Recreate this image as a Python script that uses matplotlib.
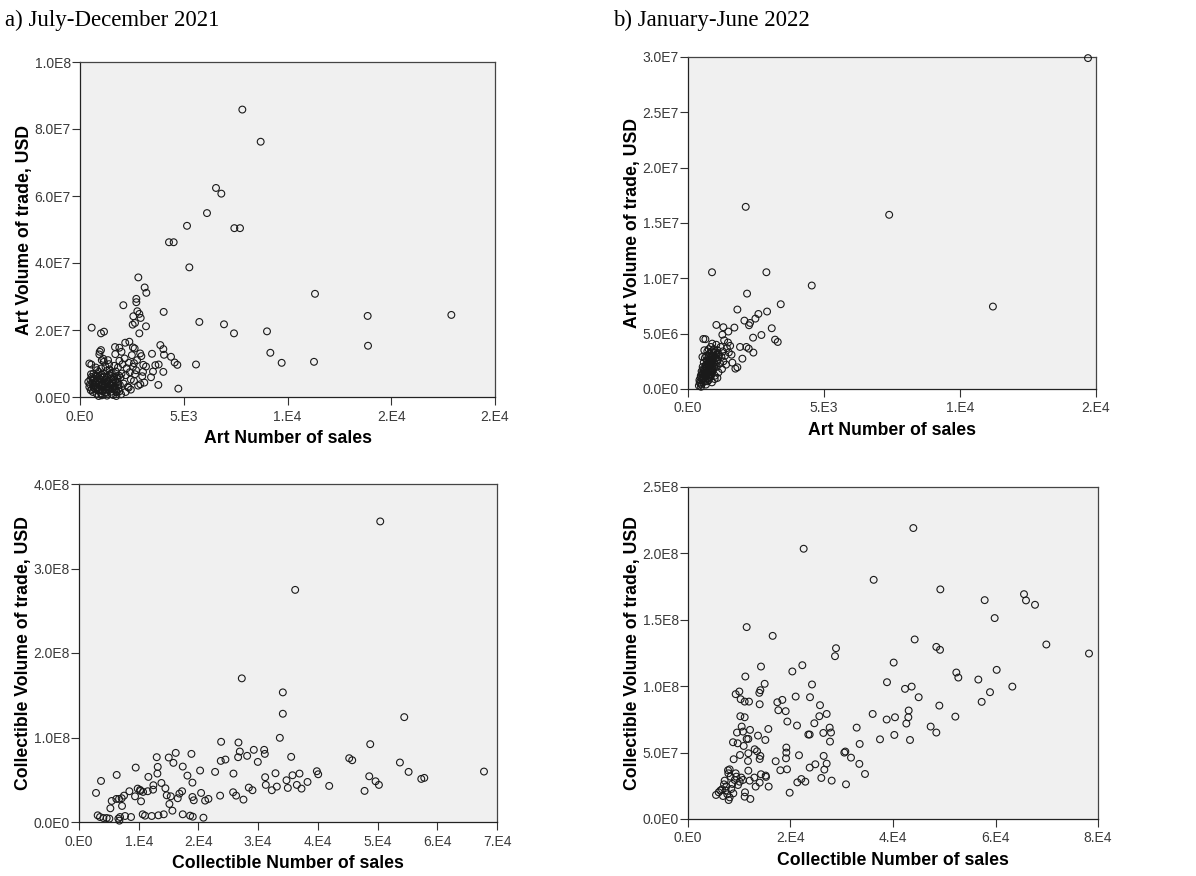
import matplotlib
matplotlib.use("Agg")
import matplotlib.pyplot as plt
import numpy as np

# ---------- Data: a) July-December 2021, Art ----------
art21_x = [7823, 8707, 6554, 6811, 6120, 5157, 7438, 7711, 4289, 4514, 5269, 2811, 3116, 3197,
           11325, 2715, 2715, 2088, 4032, 2763, 2859, 17896, 13863, 2570, 2924, 5751, 6940, 2651,
           2538, 562, 3181, 9012, 7422, 1157, 1012, 2859, 13880, 9173, 9719, 11277, 2378, 1687,
           1896, 2634, 1012, 3871, 4016, 3470, 4048, 4386, 4562, 4691, 5590, 4739, 3775, 4016,
           3791, 3631, 3181, 3422, 3518, 3036, 2907, 2345, 2956, 2602, 932, 1124, 450, 546,
           400, 450, 500, 520, 560, 600, 620, 650, 680, 700, 720, 750, 780, 800, 820, 850, 870,
           900, 920, 950, 980, 1000, 1020, 1050, 1080, 1100, 1120, 1150, 1180, 1200, 1230, 1250,
           1280, 1300, 1330, 1350, 1380, 1400, 1430, 1450, 1480, 1500, 1530, 1560, 1600, 1620,
           1650, 1680, 1700, 1730, 1760, 1800, 1830, 1850, 1880, 1900, 1920, 1950, 1980, 2000,
           2050, 2100, 2150, 2200, 2250, 2300, 2350, 2400, 2450, 2500, 2550, 2600, 2650, 2700,
           2750, 2800, 2900, 3000, 3050, 3100, 1050, 1300, 1600, 1750, 900, 2200, 2450, 1150,
           1350, 1700, 2000, 1400, 760, 1050, 950, 2550, 2180,
           480, 530, 580, 640, 700, 760, 820, 880, 940, 1000, 1060, 1120, 1180, 1240, 1300,
           1360, 1420, 1480, 1540, 1600, 1660, 1720, 1780, 1840, 1900, 610, 730, 850, 970,
           1090, 1210, 1330, 1450, 1570, 1690, 1810, 660, 790, 1010, 1270, 1520, 1770]
art21_y_m = [85.8, 76.2, 62.4, 60.7, 54.9, 51.1, 50.4, 50.4, 46.2, 46.2, 38.7, 35.7, 32.7, 31.1,
             30.8, 29.3, 28.3, 27.4, 25.4, 25.6, 24.8, 24.5, 24.2, 24.1, 23.6, 22.4, 21.7, 22.1,
             21.6, 20.7, 21.1, 19.6, 19.0, 19.5, 19.0, 19.0, 15.3, 13.2, 10.2, 10.5, 16.5, 14.9,
             14.7, 14.5, 14.0, 15.5, 14.3, 12.9, 12.6, 12.0, 10.3, 9.6, 9.7, 2.5, 3.6, 7.5,
             9.7, 9.5, 9.1, 5.9, 7.6, 7.5, 3.8, 2.8, 12.2, 10.1, 12.7, 11.4, 10.0, 9.7,
             4.5, 3.0, 5.2, 2.0, 6.0, 4.0, 1.5, 7.0, 3.5, 5.5, 2.5, 6.5, 4.2, 1.0, 8.0, 3.0, 5.0,
             7.5, 2.2, 4.5, 6.2, 3.2, 8.5, 1.8, 5.8, 4.0, 7.0, 2.8, 6.0, 3.8, 9.0, 1.2,
             5.2, 7.8, 3.0, 4.8, 2.0, 6.6, 8.2, 3.6, 5.5, 1.6, 7.2, 4.4, 2.6, 6.0,
             9.3, 3.2, 5.0, 7.6, 1.4, 4.6, 8.8, 2.4, 6.4, 10.8, 3.6, 5.8, 0.8, 7.0,
             9.8, 4.0, 11.5, 6.5, 8.6, 3.0, 10.2, 7.4, 5.2, 12.5, 9.0, 4.8, 6.8, 8.0,
             11.0, 3.4, 13.0, 6.2, 9.6, 4.3, 0.5, 0.4, 0.6, 0.3, 0.3, 1.5, 2.2, 10.5,
             11.0, 12.8, 13.5, 9.8, 8.8, 11.0, 13.5, 14.8, 16.2,
             3.8, 6.8, 2.4, 5.0, 3.2, 4.8, 6.4, 2.0, 5.4, 3.6, 6.6, 1.9, 4.6, 3.0, 5.9,
             2.4, 4.2, 6.9, 3.4, 5.2, 2.1, 4.4, 6.2, 3.8, 1.7, 5.6, 4.4, 2.7, 5.2,
             3.4, 1.4, 4.6, 2.9, 4.0, 2.4, 5.4, 2.8, 2.1, 1.1, 2.2, 0.9, 1.6]

# ---------- Data: b) January-June 2022, Art ----------
art22_x = [14706, 2122, 7396, 883, 2882, 4550, 11210, 2171, 3410, 1815, 2907, 2588, 2478, 2073,
           2281, 2244, 1043, 3079, 1705, 1300, 1484, 2698, 2392, 3201, 3299, 1263, 564, 1913,
           2146, 2232, 2404, 1999, 1815, 1742, 1631,
           400, 420, 450, 470, 480, 500, 520, 540, 550, 560, 580, 600, 610, 620, 640, 650, 660,
           670, 680, 690, 700, 710, 720, 730, 740, 750, 760, 770, 780, 790, 800, 810, 820, 830,
           840, 850, 860, 870, 880, 890, 900, 920, 940, 950, 970, 990, 1000, 1020, 1040, 1060,
           1080, 1100, 1120, 1150, 1180, 1200, 1230, 1250, 1280, 1300, 1330, 1360, 1400, 1430,
           1470, 1500, 1550, 1600, 640, 760, 980, 1080, 600, 530, 880,
           430, 460, 490, 510, 530, 560, 590, 620, 650, 680, 710, 740, 770, 800, 830, 860,
           890, 920, 950, 980, 1010, 1040, 1070, 1100, 570, 630, 690, 750, 810, 870, 930,
           660, 720, 780, 840, 900, 960]
art22_y_m = [29.9, 16.46, 15.74, 10.55, 10.55, 9.35, 7.45, 8.62, 7.66, 7.18, 7.0, 6.78, 6.36, 6.18,
             5.97, 5.76, 5.79, 5.49, 5.55, 5.58, 5.19, 4.88, 4.64, 4.46, 4.25, 4.91, 4.52, 3.8,
             3.8, 3.65, 3.29, 2.74, 1.96, 1.84, 2.38,
             0.3, 0.8, 0.5, 1.2, 0.2, 1.6, 0.9, 2.0, 0.6, 1.4, 2.4, 1.0, 1.8, 2.8, 0.7, 1.5, 2.2,
             3.0, 1.2, 2.6, 1.9, 3.4, 0.9, 2.3, 1.6, 2.9, 3.6, 1.3, 2.0, 2.7, 3.2, 1.1, 2.5, 1.8,
             3.8, 2.9, 1.5, 2.2, 3.4, 4.1, 2.6, 1.7, 3.0, 3.6, 2.4, 1.2, 3.3, 2.8, 4.0, 2.0,
             3.5, 2.6, 1.5, 3.1, 2.3, 3.8, 2.9, 1.8, 3.4, 2.5, 4.4, 3.0, 2.2, 3.7,
             4.2, 3.3, 3.9, 3.1, 4.5, 0.8, 0.9, 1.0, 3.5, 2.9, 0.6,
             0.6, 1.0, 0.4, 1.4, 1.1, 1.8, 1.3, 1.6, 2.0, 2.0, 1.4, 2.5, 2.4, 1.7, 2.2, 3.0,
             2.0, 2.7, 1.9, 2.9, 2.2, 3.1, 2.6, 3.2, 0.9, 1.2, 1.7, 2.1, 2.4, 2.6, 3.3,
             0.4, 0.7, 1.0, 1.3, 1.6, 2.0]

# ---------- Data: a) July-December 2021, Collectible ----------
col21_x = [50447, 36201, 27263, 34134, 34134, 54469, 33631, 48770, 23799, 26704, 29274, 31006,
           31117, 26927, 28156, 26648, 35531, 16201, 18827, 13017, 15028, 45251, 45754, 23743,
           24525, 29944, 53742, 17374, 9497, 15810, 13184, 55195, 67821, 39832, 40056, 32905,
           36927, 35754, 20279, 22793, 25866, 6313, 3687, 2849, 48603, 49665, 50223, 47821,
           57319, 57822, 41899, 38268, 37262, 34972, 31173, 31285, 32290, 33128, 34749, 36480,
           29050, 28435, 27541, 26312, 25810, 23631, 21117, 21676, 20838, 19218, 18995, 18995,
           18157, 20447, 17263, 16816, 16536, 15642, 15140, 15363, 14693, 14469, 13799, 13128,
           11620, 12458, 12402, 11508, 10726, 10279, 10223, 9832, 9385, 10391, 8436, 7542,
           7151, 6704, 6257, 5475, 5252, 7207,
           3129, 3520, 4078, 4637, 5084, 6592, 6871, 7710, 8715, 10670, 11061, 12179, 13296,
           14190, 17374, 18603, 19050, 6760]
col21_y_m = [355.7, 274.7, 170.0, 153.4, 128.1, 124.1, 99.6, 92.1, 94.9, 94.1, 85.4, 85.4,
             80.6, 83.4, 78.3, 76.7, 77.1, 81.8, 80.6, 76.7, 76.3, 75.5, 73.1, 72.3,
             73.9, 71.1, 70.4, 65.6, 64.4, 70.0, 65.2, 59.3, 59.7, 60.1, 56.5, 57.7,
             57.3, 55.3, 60.9, 59.3, 57.3, 55.7, 48.6, 34.4, 54.1, 48.2, 43.9, 36.8,
             51.0, 52.2, 42.7, 47.4, 39.5, 40.3, 53.0, 43.9, 37.6, 41.9, 49.4, 43.9,
             37.6, 40.7, 26.5, 31.2, 35.2, 31.2, 25.3, 27.3, 5.1, 25.7, 29.6, 46.6,
             54.9, 34.4, 36.4, 33.6, 28.1, 13.4, 21.3, 30.4, 31.6, 39.9, 46.2, 57.3,
             53.4, 43.5, 38.3, 36.4, 35.6, 36.8, 38.0, 39.5, 30.4, 24.5, 36.4, 31.2,
             28.1, 27.3, 27.3, 24.9, 16.2, 19.0,
             7.9, 5.9, 4.7, 4.7, 4.0, 4.0, 5.9, 7.1, 5.9, 9.1, 7.5, 7.1, 7.9,
             9.1, 9.1, 7.5, 6.3, 1.6]

# ---------- Data: b) January-June 2022, Collectible ----------
col22_x = [43967, 22569, 36228, 49236, 65561, 65951, 57886, 67707, 59837, 11447, 16520, 69919,
           44228, 48455, 49171, 28878, 28683, 78244, 40130, 22309, 14244, 20358, 60228, 52358,
           52748, 56650, 11187, 38829, 24195, 14959, 43642, 42341, 63285, 14114, 58927, 13919,
           9301, 10016, 21008, 23805, 45008, 10276, 11057, 11902, 18406, 17431, 57301, 13984,
           25756, 49041, 19057, 17626, 27057, 36033, 25626, 40390, 52163, 10211, 11057, 42992,
           38764, 43057, 19382, 24650, 42602, 21268, 32910, 27642, 47350, 12098, 10472, 15675,
           27902, 26407, 48455, 40260, 23740, 23480, 13659, 9561, 10732, 27707, 15089, 43317,
           37463, 33496, 11447, 11772, 8780, 9691, 10862, 19187, 13008, 13463, 30699, 30504,
           19187, 21658, 26472, 14114, 11772, 10146, 31805, 13984, 19122, 11707, 17106, 8910,
           27057, 33431, 24845, 23740, 26602, 34537, 18016, 19317, 11772, 7805, 8130, 9301,
           14244, 15154, 15220, 26016, 12944, 21333, 22114, 22894, 28033, 30829, 15740, 13984,
           13203, 12033, 19837, 12163, 11122,
           5463, 5984, 6634, 7024, 7154, 7480, 7675, 7935, 8130, 8455, 8650, 8845, 9106, 9431,
           9756, 10081, 10407, 10732, 8325, 7870, 11057, 6829, 6309, 7349]
col22_y_m = [219.1, 203.5, 180.1, 172.9, 169.3, 164.6, 164.8, 161.3, 151.3, 144.5, 137.9, 131.4,
             135.2, 129.6, 127.4, 128.6, 122.6, 124.6, 117.8, 115.8, 114.8, 111.1, 112.3, 110.3,
             106.5, 105.0, 107.3, 103.0, 101.3, 101.8, 99.7, 98.0, 99.7, 97.0, 95.5, 95.0,
             94.0, 96.0, 92.2, 91.7, 91.7, 90.2, 88.4, 88.4, 89.7, 87.9, 88.2, 86.4,
             85.7, 85.4, 81.2, 81.9, 79.1, 79.1, 77.4, 76.6, 77.1, 77.4, 76.6, 76.6,
             74.9, 81.7, 73.4, 72.1, 71.9, 70.4, 68.8, 68.8, 69.6, 67.1, 69.6, 67.8,
             65.1, 64.8, 65.1, 63.3, 63.6, 63.6, 62.8, 65.1, 65.8, 58.3, 59.5, 59.5,
             60.0, 56.5, 60.3, 60.3, 57.8, 57.0, 55.0, 53.8, 52.5, 51.0, 50.8, 50.0,
             50.0, 48.0, 47.5, 47.5, 49.5, 48.2, 46.2, 45.2, 45.7, 43.7, 43.5, 45.0,
             41.7, 41.5, 41.2, 38.7, 37.2, 33.9, 36.7, 37.4, 36.4, 36.7, 37.4, 34.4,
             33.7, 32.7, 31.7, 30.9, 31.2, 27.6, 30.1, 28.1, 28.9, 26.1, 24.4, 27.4,
             24.4, 28.9, 19.8, 15.1, 20.1,
             18.1, 20.1, 22.4, 26.1, 28.9, 24.6, 18.6, 14.3, 16.3, 22.6, 26.4, 19.3, 29.4, 31.9,
             25.6, 28.1, 31.2, 29.4, 31.9, 34.4, 16.8, 17.3, 21.4, 21.4]

titles = ["a) July-December 2021", "b) January-June 2022"]
art_xlabel = "Art Number of sales"
art_ylabel = "Art Volume of trade, USD"
col_xlabel = "Collectible Number of sales"
col_ylabel = "Collectible Volume of trade, USD"

# tick values and their SPSS-style labels
a_xticks = [0, 5000, 10000, 15000, 20000]
a_xticklabels = ["0.E0", "5.E3", "1.E4", "2.E4", "2.E4"]
a_yticks = [0, 2e7, 4e7, 6e7, 8e7, 1e8]
a_yticklabels = ["0.0E0", "2.0E7", "4.0E7", "6.0E7", "8.0E7", "1.0E8"]

b_xticks = [0, 5000, 10000, 15000]
b_xticklabels = ["0.E0", "5.E3", "1.E4", "2.E4"]
b_yticks = [0, 5e6, 1e7, 1.5e7, 2e7, 2.5e7, 3e7]
b_yticklabels = ["0.0E0", "5.0E6", "1.0E7", "1.5E7", "2.0E7", "2.5E7", "3.0E7"]

c_xticks = [0, 10000, 20000, 30000, 40000, 50000, 60000, 70000]
c_xticklabels = ["0.E0", "1.E4", "2.E4", "3.E4", "4.E4", "5.E4", "6.E4", "7.E4"]
c_yticks = [0, 1e8, 2e8, 3e8, 4e8]
c_yticklabels = ["0.0E0", "1.0E8", "2.0E8", "3.0E8", "4.0E8"]

d_xticks = [0, 20000, 40000, 60000, 80000]
d_xticklabels = ["0.E0", "2.E4", "4.E4", "6.E4", "8.E4"]
d_yticks = [0, 5e7, 1e8, 1.5e8, 2e8, 2.5e8]
d_yticklabels = ["0.0E0", "5.0E7", "1.0E8", "1.5E8", "2.0E8", "2.5E8"]

W, H = 1196, 876
fig = plt.figure(figsize=(W / 100, H / 100), dpi=100)
fig.patch.set_facecolor("white")


def box(l, r, t, b):
    return [l / W, 1 - b / H, (r - l) / W, (b - t) / H]


panels = [
    (box(80, 495, 62, 397), art21_x, art21_y_m, 1e6, a_xticks, a_xticklabels, a_yticks, a_yticklabels, art_xlabel, art_ylabel),
    (box(688, 1096, 57, 389), art22_x, art22_y_m, 1e6, b_xticks, b_xticklabels, b_yticks, b_yticklabels, art_xlabel, art_ylabel),
    (box(79, 497, 484, 822), col21_x, col21_y_m, 1e6, c_xticks, c_xticklabels, c_yticks, c_yticklabels, col_xlabel, col_ylabel),
    (box(688, 1098, 487, 819), col22_x, col22_y_m, 1e6, d_xticks, d_xticklabels, d_yticks, d_yticklabels, col_xlabel, col_ylabel),
]

tickfont = {"family": "Liberation Sans", "size": 10}
for rect, xs, ys, scale, xt, xtl, yt, ytl, xl, yl in panels:
    ax = fig.add_axes(rect)
    ax.set_facecolor("#f0f0f0")
    ax.scatter(np.array(xs), np.array(ys) * scale, s=24, facecolors="none",
               edgecolors="#1a1a1a", linewidths=0.8, clip_on=False, zorder=3)
    ax.set_xlim(xt[0], xt[-1])
    ax.set_ylim(yt[0], yt[-1])
    ax.set_xticks(xt)
    ax.set_xticklabels(xtl, fontdict=tickfont, color="#3a3a3a")
    ax.set_yticks(yt)
    ax.set_yticklabels(ytl, fontdict=tickfont, color="#3a3a3a")
    ax.tick_params(axis="both", direction="out", length=6, width=0.8, color="#333333")
    ax.tick_params(axis="x", pad=3)
    ax.tick_params(axis="y", pad=0.5)
    ax.tick_params(top=False, right=False)
    for sp in ax.spines.values():
        sp.set_color("#444444")
        sp.set_linewidth(0.9)
    ax.spines["left"].set_color("#222222")
    ax.spines["bottom"].set_color("#222222")
    ax.set_xlabel(xl, fontsize=12.7, fontweight="bold", family="Liberation Sans", labelpad=5)
    ax.set_ylabel(yl, fontsize=12.7, fontweight="bold", family="Liberation Sans", labelpad=1)

fig.text(5 / W, 1 - 20 / H, titles[0], fontsize=16.5, family="Liberation Serif", va="center", ha="left")
fig.text(613 / W, 1 - 20 / H, titles[1], fontsize=16.5, family="Liberation Serif", va="center", ha="left")

fig.savefig("out.png", dpi=100)
